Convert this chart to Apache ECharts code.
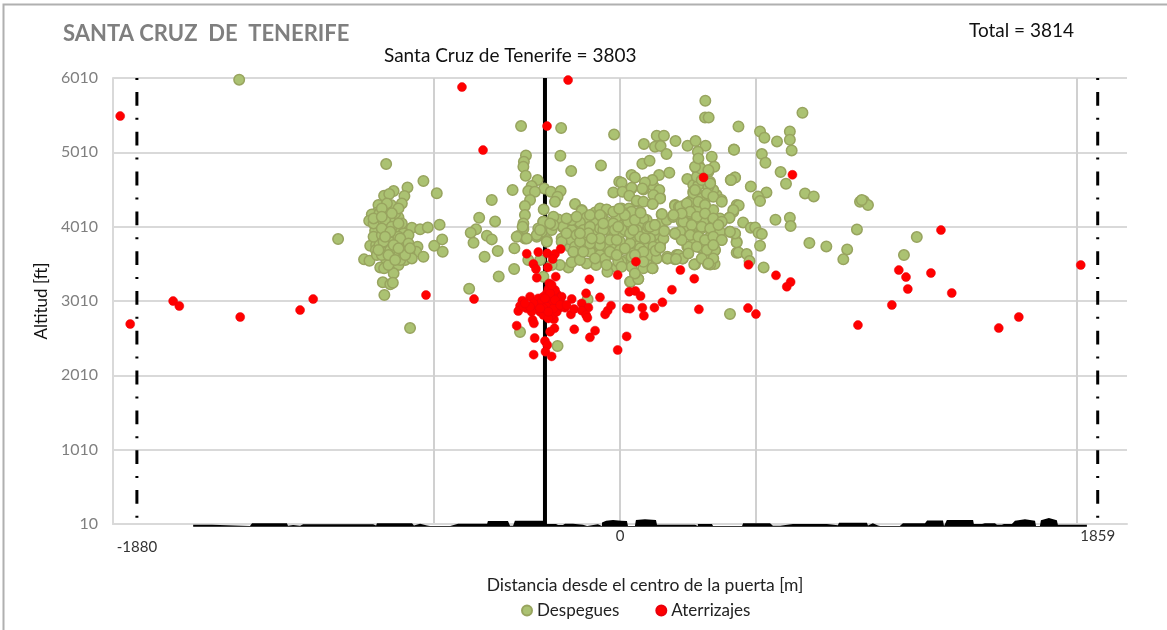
<!DOCTYPE html>
<html>
<head>
<meta charset="utf-8">
<style>html,body{margin:0;height:100%;background:#fff}#container{width:1167px;height:630px}</style>
<script src="https://cdn.jsdelivr.net/npm/echarts@6/dist/echarts.min.js"></script>
</head>
<body>
<div id="container"></div>
<script>
// values: [distance m, altitude ft]
const despegues = [
[-765,4624],[-827,4538],[-881,4489],[-713,4458],[-839,4422],[-918,4426],[-898,4449],[-849,4323],[-940,4301],[-891,4301],
[-946,4198],[-966,4175],[-918,4189],[-976,4090],[-862,4135],[-940,4068],[-907,4054],[-894,4121],[-953,3956],[-868,3965],
[-810,3996],[-778,3974],[-748,4000],[-702,4036],[-884,3897],[-933,3852],[-843,3920],[-823,3897],[-972,3754],[-894,3799],
[-845,3794],[-949,3763],[-950,3696],[-907,3696],[-788,3740],[-793,3673],[-820,3651],[-859,3619],[-765,3606],[-723,3754],
[-692,3839],[-690,3673],[-996,3570],[-975,3552],[-946,3628],[-910,3570],[-920,3740],[-875,3673],[-933,3462],[-918,3449],
[-888,3539],[-862,3494],[-836,3561],[-881,3382],[-923,3261],[-894,3234],[-884,3256],[-917,3090],[-936,3763],[-920,3965],
[-914,4099],[-868,3785],[-959,3875],[-927,3628],[-836,3718],[-888,4009],[-936,4189],[-875,4189],[-959,4054],[-855,3561],
[-901,3494],[-810,3583],[-849,4054],[-927,3897],[-907,3920],[-927,3987],[-862,3875],[-894,3696],
[-907,4323],[-862,4256],[-927,4256],[-959,4121],[-888,4189],[-927,4144],[-862,4054],[-894,3942],[-855,3852],[-920,3808],
[-881,3763],[-823,3785],[-901,3628],[-836,3628],[-875,3561],[-940,3696],[-914,3875],[-862,3718],[-817,3718],
[-1097,3843],[-910,4852],[-817,2646],[-1482,5988],[-385,5363],[-229,5336],
[-418,4503],[-499,4368],[-548,4130],[-486,4081],[-560,3974],[-581,3929],[-570,3794],[-518,3888],[-499,3839],[-476,3682],
[-527,3606],[-411,3718],[-412,3440],[-472,3341],[-587,3176],
[-366,4968],[-374,4883],[-376,4816],[-367,4695],[-321,4637],[-344,4556],[-295,4524],[-357,4489],[-269,4480],[-231,4489],
[-331,4480],[-350,4368],[-243,4412],[-253,4345],[-175,4314],[-370,4287],[-297,4242],[-370,4166],[-149,4233],[-376,4054],
[-299,4076],[-260,4134],[-240,4108],[-279,4054],[-376,3978],[-318,3986],[-221,3999],[-396,3883],[-370,3852],[-324,3874],
[-285,3830],[-305,3942],[-266,3964],[-195,3942],[-158,4076],[-130,4121],[-97,4202],[-52,4233],[-23,5251],[-74,4834],
[-190,4758],[-232,4964],[-26,4471],[-3,4614],
[-195,3852],[-162,3830],[-117,4009],[-78,4031],[-46,3964],[-13,4054],[-143,3919],[-188,4076],[-91,3874],[-52,3785],
[-227,3852],[-195,3740],[-130,3695],[-91,3650],[-39,3695],[-13,3762],[-162,4054],[-117,3785],[-78,3740],
[6,4601],[45,4525],[-78,4256],[-52,4242],[-149,4225],[-130,4135],[6,4256],[65,4346],[91,4511],[130,4556],
[156,4404],[127,4323],[78,4202],[35,4256],[162,4175],[207,4144],[214,4301],[272,4346],[246,4287],[311,4256],
[272,4166],[130,4032],[169,3956],[214,3920],[246,3965],[298,4009],[-156,4068],[-95,4054],[-52,4077],[6,4032],
[58,4090],[-221,4009],[-188,3965],[-143,3965],[-46,3965],[0,3920],[52,3956],[104,3942],[143,3875],[91,3839],
[-26,3875],[-91,3920],[-136,3852],[-195,3839],[-227,3808],[-104,3799],[-58,3763],[-20,3754],[19,3718],[58,3776],
[93,3673],[143,3696],[184,3583],[220,3628],[244,3583],[292,3503],[127,3449],[58,3391],[39,3270],[71,3306],
[-13,3462],[-49,3404],[-93,3494],[-130,3516],[-162,3642],[-201,3462],[-188,3530],[-234,3494],[-20,3628],[26,3561],
[91,3539],[-78,3628],[-117,3673],[-58,3583],[6,3539],[104,3561],[-259,4144],[-298,4077],[-379,4009],[-324,3897],
[-402,3875],[-363,3852],[-285,3808],[-259,4032],[-272,4054],[-311,3965],[-357,3561],[-311,3561],[-266,3494],[-298,3337],
[-126,3032],[-389,2593],[-243,2404],
[-188,4099],[-13,4144],[26,4121],[-71,4144],[104,4099],[52,3651],[65,3561],[-143,3763],[-175,3740],[0,3808],
[45,3852],[110,3763],[-78,3763],[-39,3673],[-156,3561],[-78,3987],[-117,4009],[-26,4054],[78,4054],[19,3965],
[156,3785],[136,3965],[45,4009],
[-208,4121],[-169,4144],[-117,4166],[-78,4166],[-26,4211],[19,4189],[45,4211],[91,4121],[110,4009],[156,4054],
[182,4099],[-208,3920],[-169,3897],[-123,3920],[-65,3965],[-20,3965],[32,4077],[65,3965],[78,3875],[117,3852],
[169,3852],[130,3740],[78,3718],[39,3785],[0,3696],[-39,3830],[-78,3852],[-117,3785],[-156,3808],[-182,3673],
[-143,3673],[-97,3583],[-52,3494],[-7,3539],[45,3606],[71,3628],[117,3628],[143,3583],[45,3471],[91,3449],
[-156,3920],[-110,3852],[-65,4054],[-13,3830],
[143,5233],[171,5233],[216,5161],[93,5121],[136,5085],[158,5094],[181,4986],[263,5098],[294,5161],[333,5098],
[303,5018],[443,5049],[357,4950],[87,4856],[115,4897],[192,4735],[306,4838],[298,4793],[367,4816],[45,4704],
[58,4672],[152,4704],[262,4650],[344,4749],[126,4637],[97,4605],[431,4637],[447,4672],[10,4480],[45,4533],
[87,4524],[153,4502],[130,4435],[36,4426],[156,4390],[65,4359],[91,4345],[127,4314],[285,4569],[305,4569],
[350,4614],[285,4480],[337,4435],[376,4435],[305,4435],[363,4502],[214,4291],[272,4345],[328,4368],[395,4368],
[454,4300],[441,4211],[425,4130],[229,4278],[301,4255],[363,4233],[163,4179],[207,4143],[240,4076],[272,4188],
[324,4143],[389,4121],[253,3964],[217,3910],[279,3919],[350,4031],[305,4009],[389,3942],[428,3942],[454,3807],
[447,3910],[262,3740],[315,3726],[350,3861],[292,3807],[368,3686],[395,3830],[454,3659],[324,3596],[342,3507],
[368,3507],[289,3502],[184,3605],[227,3628],[244,3583],[214,3570],[126,3449],[139,3686],[156,3731],[172,3951],
[117,4009],[136,4031],[97,3852],[58,4099],[19,4166],[80,4197],[-3,4251],[39,3919],[-7,4009],[52,3964],
[19,3717],[91,3673],[58,3628],[-13,3628],[41,3269],[71,3305],[58,3381],[6,3471],[91,3538],
[332,5704],[331,5479],[345,5479],[710,5542],[461,5358],[545,5291],[562,5206],[661,5291],[661,5179],[611,5157],
[668,5036],[444,5045],[552,4986],[566,4870],[625,4744],[646,4587],[509,4551],[448,4672],[432,4637],[570,4471],
[537,4417],[545,4354],[720,4457],[754,4417],[934,4345],[462,4296],[441,4233],[426,4130],[479,4067],[605,4103],
[661,4130],[664,4018],[922,3973],[509,3995],[526,4000],[539,3928],[552,3910],[545,3753],[454,3798],[448,3919],
[428,3942],[461,3664],[493,3641],[504,3547],[559,3462],[737,3789],[803,3744],[884,3704],[869,3570],
[299,4681],[314,4793],[344,4547],[299,4412],[279,4345],[234,4278],[305,4256],[325,4076],[351,3874],[318,3987],
[247,3964],[286,3807],[370,3695],[318,3718],[266,3740],[351,3502],[363,3583],[325,3605],[185,3583],[218,3574],
[286,4457],[318,4390],[338,4457],[363,4412],[396,4345],[260,4323],[305,4345],[331,4300],[273,4211],[299,4143],
[331,4188],[363,4121],[396,4076],[247,4076],[279,4031],[318,4009],[351,3987],[383,4031],[234,3942],[273,3897],
[305,3874],[331,3830],[363,3874],[396,3830],[299,3740],[338,3695],[363,3762],[318,3583],[344,3516],[266,3650],
[240,3830],[214,3919],[240,4188],[344,4771],[292,4816],[305,4928],[318,4637],[351,4592],[292,4502],
[208,4166],[949,4354],[965,4300],[941,4368],[1155,3870],[1105,3628],[428,2835]
];

const aterrizajes = [
[-363,3646],[-318,3669],[-283,3651],[-253,3642],[-231,3709],[-262,3574],[-337,3507],[-327,3440],[-281,3462],[-324,3323],
[-250,3337],[-119,3301],[-9,3359],[-132,3113],[-78,3059],[-275,3247],[-266,3167],[-279,3167],[-246,3104],[-350,3068],
[-380,3014],[-389,2942],[-396,2875],[-357,2920],[-324,2956],[-298,3023],[-305,2911],[-272,2933],[-246,2978],[-233,3023],
[-214,2920],[-188,3037],[-191,2830],[-179,2902],[-149,2978],[-123,2920],[-149,2880],[-132,2821],[-127,2785],[-58,2830],
[-48,2880],[-35,2947],[-402,2678],[-340,2754],[-335,2709],[-257,2763],[-255,2642],[-272,2597],[-178,2629],[-97,2611],
[-117,2521],[-332,2512],[-292,2472],[-283,2418],[-290,2328],[-336,2288],[-266,2265],[-9,2351],
[-285,3113],[-259,3068],[-279,3023],[-311,2866],[-285,2866],[-259,2866],[-292,2978],[-266,2956],[-318,3045],[-240,2911],
[-331,2911],[-363,2911],[-344,2866],[-298,2821],[-266,2821],[-275,3180],[-227,3068],[-298,3068],[-253,3158],[-246,2866],
[-279,2776],[-227,2933],[-376,2933],
[-311,2978],[-285,2933],[-259,2911],[-272,3113],[-253,3023],[-233,2956],[-337,2978],[-350,2933],[-298,2911],[-279,2866],
[-311,2911],[-266,3225],[-292,3045],[-208,2956],[-370,2978],
[62,3539],[36,3135],[60,3144],[80,3077],[26,2911],[39,2907],[87,2920],[93,2812],[134,2920],[165,2992],
[202,3162],[235,3427],[289,3310],[307,2898],[26,2534],
[325,4672],[671,4708],[500,3498],[607,3355],[664,3265],[649,3202],[498,2915],[529,2834],[926,2686],[1058,2956],
[1085,3426],[1113,3332],[1120,3171],[1210,3386],[1249,3964],[1291,3117],[1474,2646],[1552,2794],[1793,3494],
[-1945,5498],[-202,5982],[-615,5888],[-284,5363],[-533,5040],[-1906,2700],[-1739,3009],[-1715,2942],[-1478,2794],
[-1245,2888],[-1194,3036],[-755,3090],[-568,3036]
];

// silhouette along the bottom of the plot
const perfil = [
[-1661,-26],[-1661,1],[-1588,1],[-1584,-18],[-1440,-18],[-1432,19],[-1296,19],[-1292,-15],[-1272,-3],[-1245,-15],
[-1233,6],[-961,6],[-949,-10],[-946,19],[-809,19],[-802,-10],[-778,14],[-751,-10],[-739,-18],[-661,-18],
[-630,14],[-517,14],[-514,50],[-436,50],[-428,-12],[-416,-12],[-409,54],[-292,54],[-288,10],[-249,10],
[-241,-3],[-222,-3],[-214,14],[-183,14],[-183,1],[-144,1],[-128,-18],[-128,6],[-86,6],[-70,-18],
[-70,30],[-54,54],[-27,64],[4,54],[27,50],[31,-18],[58,-18],[62,64],[97,73],[140,64],
[144,1],[292,1],[303,-18],[303,10],[358,10],[362,-18],[475,-18],[479,19],[584,19],[595,-15],
[595,1],[623,-15],[673,10],[805,10],[809,-7],[848,-7],[852,28],[961,28],[965,-10],[984,19],
[1004,-10],[1012,-18],[1089,-18],[1101,19],[1187,19],[1195,57],[1257,57],[1261,-18],[1268,-18],[1272,64],
[1374,64],[1377,10],[1409,10],[1420,19],[1459,19],[1467,1],[1486,1],[1494,10],[1525,10],[1537,54],
[1576,73],[1615,54],[1619,-18],[1634,-18],[1638,60],[1669,91],[1700,60],[1704,1],[1817,1],[1817,-26]
];

const yTicks = [10, 1010, 2010, 3010, 4010, 5010, 6010];
const xGrid = [-723, 0, 527, 1777];
const xLabels = [-1880, 0, 1859];
const xMin = -1973, xMax = 1973;
const yMin = 10, yMax = 6010;
const puerta = -292;
const limites = [-1880, 1859];
const font = 'Lato';

var myChart = echarts.init(document.getElementById('container'), null, { renderer: 'canvas' });

function vertical(x) { return [[x, yMax], [x, yMin]]; }

var option = {
  animation: false,
  textStyle: { fontFamily: font },
  title: [
    { text: 'SANTA CRUZ  DE  TENERIFE', left: 58, top: 18, textStyle: { fontFamily: font, fontSize: 22, fontWeight: 'bold', color: '#7f7f7f' } },
    { text: 'Santa Cruz de Tenerife = 3803', left: 379, top: 41, textStyle: { fontFamily: font, fontSize: 19, fontWeight: 'normal', color: '#111' } },
    { text: 'Total = 3814', left: 964, top: 16, textStyle: { fontFamily: font, fontSize: 19, fontWeight: 'normal', color: '#111' } }
  ],
  graphic: [{ type: 'rect', shape: { x: 3.5, y: 4.5, width: 1400, height: 900 }, style: { fill: 'none', stroke: '#b0b0b0', lineWidth: 2 }, silent: true }],
  legend: {
    data: ['Despegues', 'Aterrizajes'],
    left: 516, top: 597, itemWidth: 10, itemHeight: 10, itemGap: 36,
    textStyle: { fontFamily: font, fontSize: 17, color: '#222' }
  },
  grid: { left: 113, right: 40, top: 78, bottom: 106 },
  xAxis: {
    type: 'value', min: xMin, max: xMax,
    name: 'Distancia desde el centro de la puerta [m]',
    nameLocation: 'middle', nameGap: 52,
    nameTextStyle: { fontFamily: font, fontSize: 17.5, color: '#222', padding: [0, 0, 0, 50] },
    axisLine: { onZero: false, lineStyle: { color: '#d9d9d9', width: 2 } },
    axisTick: { show: false, customValues: xGrid },
    splitLine: { show: true, lineStyle: { color: '#d0d0d0', width: 2 } },
    axisLabel: {
      customValues: xLabels, margin: 5, fontFamily: font, fontSize: 15, color: '#333',
      formatter: v => v === -1880 ? '{low|-1880}' : String(v),
      rich: { low: { padding: [11, 0, 0, 0], fontFamily: font, fontSize: 15, color: '#333' } }
    }
  },
  yAxis: {
    type: 'value', min: yMin, max: yMax,
    name: 'Altitud [ft]', nameLocation: 'middle', nameGap: 52,
    nameTextStyle: { fontFamily: font, fontSize: 17, color: '#111' },
    axisLine: { show: true, onZero: false, lineStyle: { color: '#d9d9d9', width: 2 } },
    axisTick: { show: false, customValues: yTicks },
    splitLine: { show: true, lineStyle: { color: '#d9d9d9', width: 2 } },
    axisLabel: { customValues: yTicks, margin: 15, fontFamily: font, fontSize: 16, color: '#7f7f7f', formatter: v => String(v) }
  },
  series: [
    {
      name: 'Perfil', type: 'line', data: perfil, showSymbol: false, clip: false, silent: true, z: 3,
      lineStyle: { width: 0 }, areaStyle: { color: '#000', opacity: 1, origin: -26 }
    },
    {
      name: 'Puerta', type: 'line', data: vertical(puerta), showSymbol: false, silent: true, z: 3,
      lineStyle: { color: '#000', width: 4 }
    },
    {
      name: 'Limite izquierdo', type: 'line', data: vertical(limites[0]), showSymbol: false, silent: true, z: 3,
      lineStyle: { color: '#000', width: 3, type: [2, 12, 13.8, 12] }
    },
    {
      name: 'Limite derecho', type: 'line', data: vertical(limites[1]), showSymbol: false, silent: true, z: 3,
      lineStyle: { color: '#000', width: 3, type: [2, 12, 13.8, 12] }
    },
    {
      name: 'Despegues', type: 'scatter', data: despegues, symbolSize: 10.5, clip: false, z: 4,
      itemStyle: { color: '#abc272', borderColor: '#98a45f', borderWidth: 1.5, opacity: 1 }
    },
    {
      name: 'Aterrizajes', type: 'scatter', data: aterrizajes, symbolSize: 9, clip: false, z: 5,
      itemStyle: { color: '#ff0000', borderColor: '#e8000c', borderWidth: 0.5, opacity: 1 }
    }
  ]
};

myChart.setOption(option);
window.addEventListener('resize', myChart.resize);
</script>
</body>
</html>
